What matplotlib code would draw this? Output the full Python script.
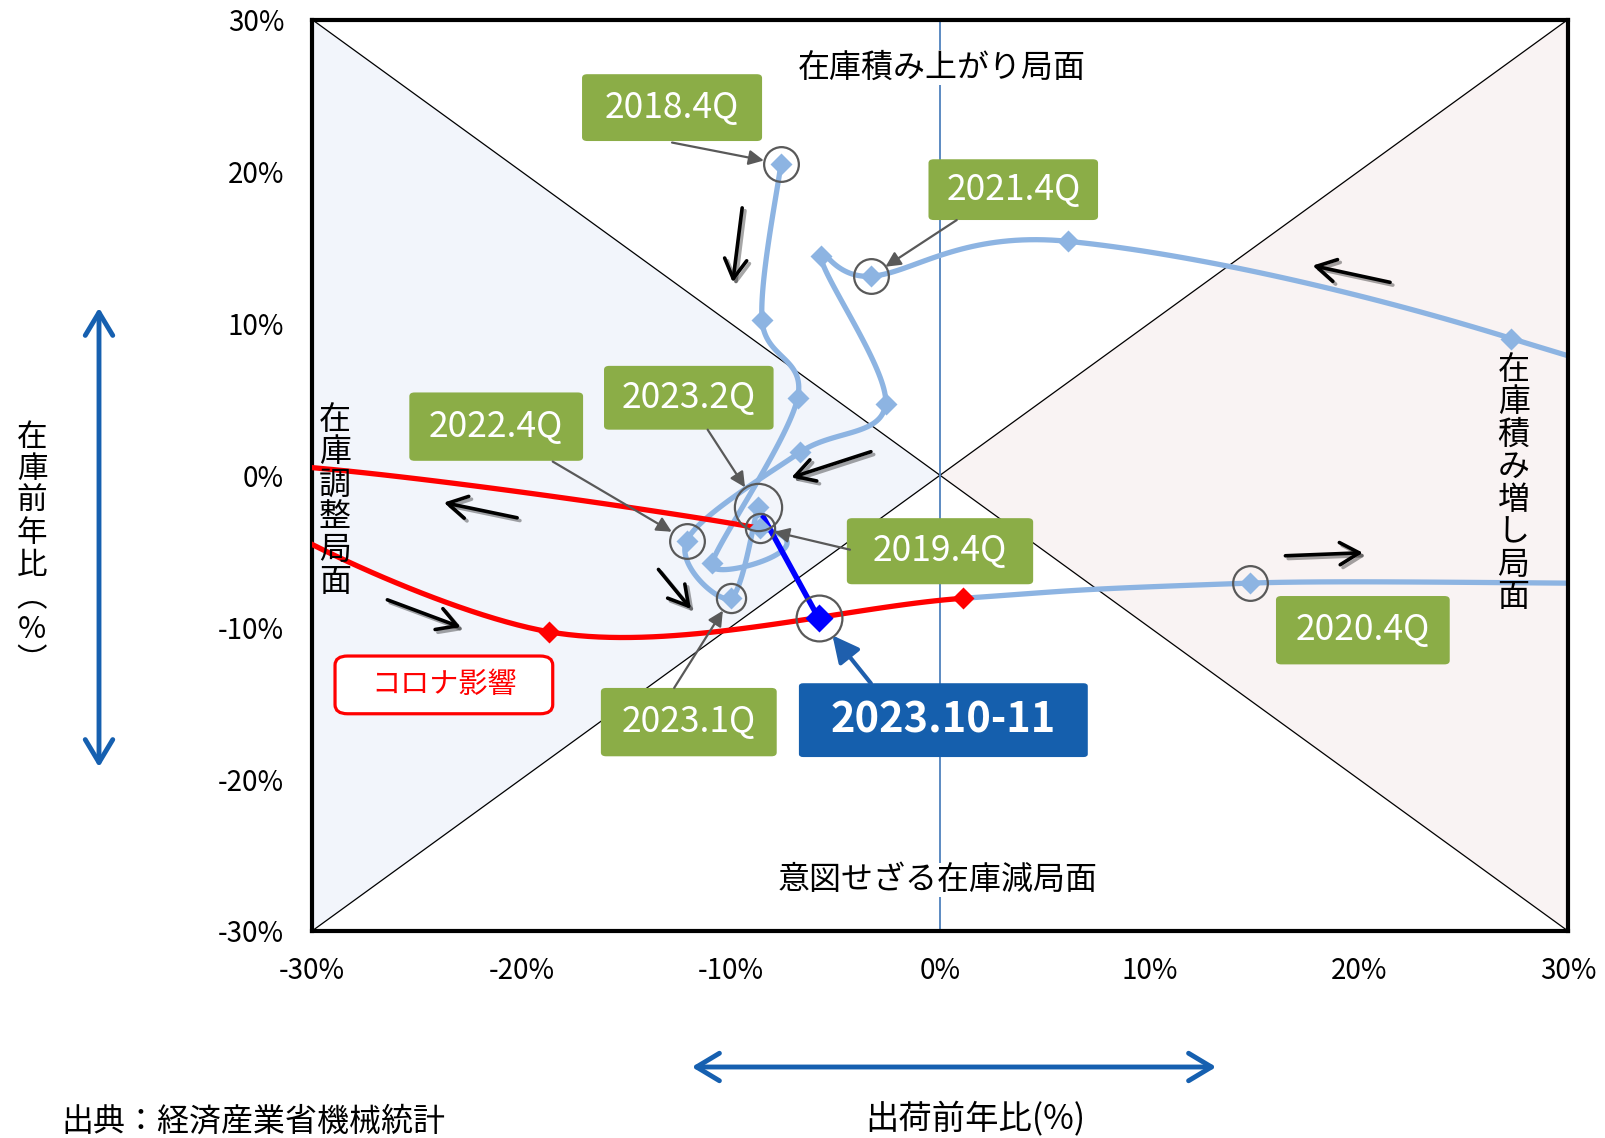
import numpy as np
import matplotlib
matplotlib.use("Agg")
import matplotlib.pyplot as plt
import matplotlib.patheffects as pe
from matplotlib.patches import FancyBboxPatch, FancyArrowPatch
from matplotlib.transforms import offset_copy

plt.rcParams["font.family"] = ["Noto Sans CJK JP", "DejaVu Sans"]

# 出荷前年比(x) / 在庫前年比(y), %  (2020.1Q, 2021.1Q は枠外)
quarters = ["2018.4Q", "2019.1Q", "2019.2Q", "2019.3Q", "2019.4Q",
            "2020.1Q", "2020.2Q", "2020.3Q", "2020.4Q",
            "2021.1Q", "2021.2Q", "2021.3Q", "2021.4Q",
            "2022.1Q", "2022.2Q", "2022.3Q", "2022.4Q",
            "2023.1Q", "2023.2Q"]
shipment = [-7.6, -8.5, -6.8, -10.9, -8.6,
            -35.0, -18.7, 1.1, 14.8,
            55.0, 27.3, 6.1, -3.3,
            -5.7, -2.6, -6.7, -12.1,
            -10.0, -8.7]
inventory = [20.5, 10.2, 5.1, -5.8, -3.5,
             0.6, -10.3, -8.1, -7.1,
             -5.5, 9.0, 15.4, 13.1,
             14.4, 4.7, 1.5, -4.3,
             -8.1, -2.1]
covid = ["2019.4Q", "2020.1Q", "2020.2Q", "2020.3Q"]

latest_label = "2023.10-11"
latest_ship = -5.8
latest_inv = -9.4

ticks = [-30, -20, -10, 0, 10, 20, 30]
tick_labels = ["-30%", "-20%", "-10%", "0%", "10%", "20%", "30%"]

LIGHT = "#8DB4E2"
GREEN = "#8BAD47"
NAVY = "#155FAD"
GRAY = "#595959"


def smooth(xs, ys, n=40):
    pts = np.column_stack([xs, ys])
    ext = np.vstack([pts[0], pts, pts[-1]])
    t = np.linspace(0, 1, n)[:, None]
    segs = []
    for i in range(len(pts) - 1):
        p0, p1, p2, p3 = ext[i], ext[i + 1], ext[i + 2], ext[i + 3]
        c1 = p1 + (p2 - p0) / 6
        c2 = p2 - (p3 - p1) / 6
        segs.append((1 - t) ** 3 * p1 + 3 * (1 - t) ** 2 * t * c1
                    + 3 * (1 - t) * t ** 2 * c2 + t ** 3 * p2)
    return segs


def vtext(x, y, s, transform, pitch=23.4, **kw):
    for i, ch in enumerate(s):
        tr = offset_copy(transform, fig=fig, x=0, y=-i * pitch, units="points")
        fig.text(x, y, ch, transform=tr, ha="center", va="center", **kw)


fig = plt.figure(figsize=(16.06, 11.38), dpi=100)
ax = fig.add_axes([312 / 1606, 1 - 931 / 1138, 1256 / 1606, 911.5 / 1138])
ax.set_xlim(-30, 30)
ax.set_ylim(-30, 30)

ax.fill([-30, 0, -30], [30, 0, -30], color="#F2F5FB", zorder=0)
ax.fill([30, 0, 30], [30, 0, -30], color="#F9F3F3", zorder=0)
ax.plot([-30, 30], [30, -30], color="black", lw=0.9, zorder=1)
ax.plot([-30, 30], [-30, 30], color="black", lw=0.9, zorder=1)
ax.axvline(0, color="#4F81BD", lw=1.3, zorder=1)

# lines
segs = smooth(shipment, inventory)
for i, seg in enumerate(segs):
    red = quarters[i] in covid and quarters[i + 1] in covid
    ax.plot(seg[:, 0], seg[:, 1], color="#FF0000" if red else LIGHT,
            lw=3.8, solid_capstyle="round", zorder=3 if red else 2)
ax.plot([shipment[-1], latest_ship], [inventory[-1], latest_inv],
        color="#0000FF", lw=4, zorder=3)

# markers
for q, x, y in zip(quarters, shipment, inventory):
    red = q in covid[2:]
    ax.plot(x, y, marker="D", ms=11, color="#FF0000" if red else LIGHT,
            mec="none", zorder=4)
ax.plot(latest_ship, latest_inv, marker="D", ms=14, color="#0000FF",
        mec="none", zorder=5)

# circles + labels
notes = {
    # quarter: (circle size, box center, box size, arrow tail)
    "2018.4Q": (25, (-12.8, 24.2), (8.6, 4.4), (-12.8, 21.9)),
    "2021.4Q": (25, (3.5, 18.8), (8.1, 4.0), (0.8, 16.8)),
    "2023.2Q": (34, (-12.0, 5.1), (8.1, 4.2), (-11.1, 3.0)),
    "2022.4Q": (25, (-21.2, 3.2), (8.3, 4.5), (-18.5, 0.9)),
    "2019.4Q": (21, (0.0, -5.0), (8.9, 4.35), (-4.3, -4.9)),
    "2020.4Q": (25, (20.2, -10.2), (8.3, 4.5), None),
    "2023.1Q": (21, (-12.0, -16.25), (8.4, 4.5), (-12.7, -14.0)),
}
for q, (cs, (bx, by), (bw, bh), tail) in notes.items():
    i = quarters.index(q)
    px, py = shipment[i], inventory[i]
    ax.plot(px, py, marker="o", ms=cs, mfc="none", mec=GRAY, mew=1.6, zorder=6)
    ax.add_patch(FancyBboxPatch((bx - bw / 2, by - bh / 2), bw, bh,
                                boxstyle="round,pad=0,rounding_size=0.25",
                                fc=GREEN, ec="none", zorder=7, clip_on=False))
    ax.text(bx, by, q, ha="center", va="center", color="white", fontsize=25.5,
            zorder=8)
    if tail is not None:
        ax.annotate("", xy=(px, py), xytext=tail,
                    arrowprops=dict(arrowstyle="-|>,head_length=0.6,head_width=0.3",
                                    color=GRAY, lw=1.6, shrinkA=0, shrinkB=cs / 2,
                                    mutation_scale=15), zorder=7)

ax.plot(latest_ship, latest_inv, marker="o", ms=33, mfc="none", mec=GRAY,
        mew=1.6, zorder=6)
ax.add_patch(FancyBboxPatch((0.16 - 6.9, -16.12 - 2.43), 13.8, 4.86,
                            boxstyle="round,pad=0,rounding_size=0.2",
                            fc=NAVY, ec="none", zorder=7))
ax.text(0.16, -16.12, latest_label, ha="center", va="center", color="white",
        fontsize=30, fontweight="bold", zorder=8)
ax.annotate("", xy=(latest_ship, latest_inv), xytext=(-3.3, -13.7),
            arrowprops=dict(arrowstyle="-|>,head_length=0.8,head_width=0.4",
                            color="#1F5FAD", lw=3, shrinkA=0, shrinkB=16,
                            mutation_scale=20), zorder=7)

ax.add_patch(FancyBboxPatch((-23.7 - 5.2, -13.8 - 1.9), 10.4, 3.8,
                            boxstyle="round,pad=0,rounding_size=0.6",
                            fc="white", ec="#FF0000", lw=2.3, zorder=7))
ax.text(-23.7, -13.8, "コロナ影響", ha="center", va="center", color="#FF0000",
        fontsize=21, zorder=8)

# trend arrows
trend = [((-9.45, 17.6), (-9.9, 12.7)), ((21.5, 12.7), (17.8, 13.8)),
         ((-3.3, 1.55), (-7.1, -0.15)), ((-20.2, -2.8), (-23.7, -1.8)),
         ((-26.4, -8.2), (-22.9, -10.0)), ((-13.45, -6.2), (-11.9, -8.8)),
         ((16.5, -5.3), (20.2, -5.1))]
for a, b in trend:
    ax.annotate("", xy=b, xytext=a,
                arrowprops=dict(arrowstyle="->,head_length=0.7,head_width=0.4",
                                color="black", lw=2.6, shrinkA=0, shrinkB=0,
                                mutation_scale=20,
                                path_effects=[pe.SimpleLineShadow(offset=(2, -2), alpha=0.35),
                                              pe.Normal()]), zorder=5)

# phase labels
ax.text(0.1, 26.85, "在庫積み上がり局面", ha="center", va="center", fontsize=23,
        bbox=dict(fc="white", ec="none", pad=1), zorder=2)
ax.text(-0.1, -26.65, "意図せざる在庫減局面", ha="center", va="center", fontsize=23,
        bbox=dict(fc="white", ec="none", pad=1), zorder=2)
vtext(-28.9, 3.65, "在庫調整局面", ax.transData, fontsize=23)
vtext(27.4, 6.95, "在庫積み増し局面", ax.transData, fontsize=23)

ax.set_xticks(ticks, tick_labels)
ax.set_yticks(ticks, tick_labels)
ax.tick_params(length=0, labelsize=20)
ax.tick_params(axis="x", pad=18)
ax.tick_params(axis="y", pad=20)
for s in ax.spines.values():
    s.set_linewidth(3)

# outside
vtext(32 / 1606, 1 - 438 / 1138, "在庫前年比︵%︶", fig.transFigure, pitch=23,
      fontsize=22)
fig.add_artist(FancyArrowPatch((99 / 1606, 1 - 770 / 1138), (99 / 1606, 1 - 305 / 1138),
                               transform=fig.transFigure, color="#1660B0", lw=3.5,
                               arrowstyle="<->,head_length=0.55,head_width=0.33",
                               mutation_scale=30))
fig.add_artist(FancyArrowPatch((689 / 1606, 1 - 1067 / 1138), (1219 / 1606, 1 - 1067 / 1138),
                               transform=fig.transFigure, color="#1660B0", lw=3.5,
                               arrowstyle="<->,head_length=0.55,head_width=0.33",
                               mutation_scale=30))
fig.text(975 / 1606, 1 - 1120 / 1138, "出荷前年比(%)", ha="center", va="center",
         fontsize=24)
fig.text(61 / 1606, 1 - 1122 / 1138, "出典：経済産業省機械統計", ha="left",
         va="center", fontsize=23)

fig.savefig("out.png", dpi=100)
